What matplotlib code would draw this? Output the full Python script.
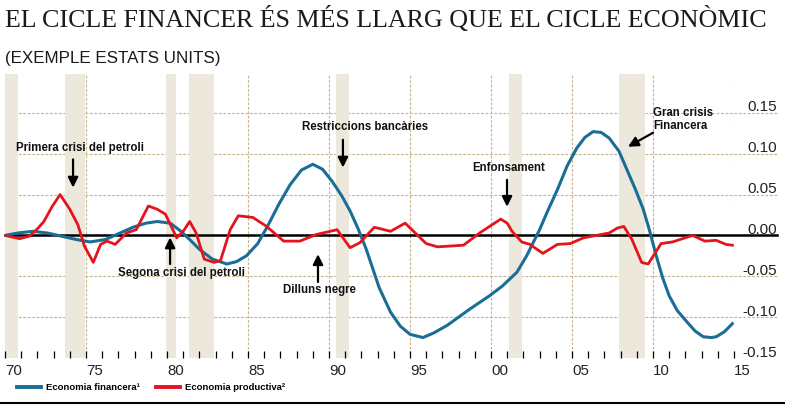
import matplotlib
matplotlib.use("Agg")
import matplotlib.pyplot as plt
from matplotlib.lines import Line2D

# ---------------- data ----------------
fin_years = [1970.0, 1970.8, 1971.7, 1972.6, 1973.5, 1974.4, 1975.25, 1976.2, 1977.0, 1977.9,
             1978.7, 1979.4, 1980.2, 1980.8, 1981.4, 1982.0, 1982.8, 1983.7, 1984.3, 1984.9,
             1985.6, 1986.2, 1986.9, 1987.6, 1988.3, 1989.0, 1989.6, 1990.2, 1990.8, 1991.3,
             1991.8, 1992.3, 1993.1, 1993.8, 1994.4, 1995.0, 1995.8, 1996.5, 1997.3, 1998.0,
             1998.7, 1999.3, 1999.9, 2000.7, 2001.6, 2002.2, 2003.0, 2003.5, 2004.1, 2004.7,
             2005.3, 2005.8, 2006.3, 2006.8, 2007.3, 2007.9, 2008.4, 2008.9, 2009.4, 2009.8,
             2010.2, 2010.6, 2011.0, 2011.5, 2012.1, 2012.6, 2013.1, 2013.6, 2013.9, 2014.4,
             2014.9]
fin_values = [0.000, 0.003, 0.005, 0.003, -0.001, -0.005, -0.008, -0.005, 0.002, 0.010,
              0.015, 0.017, 0.015, 0.006, -0.005, -0.017, -0.029, -0.035, -0.032, -0.025,
              -0.010, 0.011, 0.038, 0.062, 0.080, 0.087, 0.081, 0.066, 0.048, 0.030,
              0.008, -0.017, -0.064, -0.094, -0.111, -0.121, -0.125, -0.119, -0.110, -0.100,
              -0.090, -0.082, -0.074, -0.062, -0.045, -0.025, 0.007, 0.030, 0.056, 0.085,
              0.107, 0.120, 0.127, 0.126, 0.119, 0.103, 0.080, 0.057, 0.032, 0.005,
              -0.025, -0.052, -0.074, -0.092, -0.106, -0.117, -0.124, -0.125, -0.124, -0.118,
              -0.108]

prod_years = [1970.0, 1970.9, 1971.5, 1972.0, 1972.4, 1972.9, 1973.4, 1974.0, 1974.5, 1974.9,
              1975.45, 1975.9, 1976.3, 1976.8, 1977.5, 1978.1, 1978.85, 1979.4, 1979.9, 1980.6,
              1981.0, 1981.4, 1981.8, 1982.3, 1982.9, 1983.3, 1983.9, 1984.4, 1985.3, 1986.15,
              1987.2, 1988.2, 1989.2, 1990.5, 1991.3, 1991.9, 1992.8, 1993.8, 1994.7, 1996.0,
              1996.7, 1998.3, 1999.3, 2000.6, 2001.0, 2001.3, 2001.9, 2002.4, 2003.2, 2004.1,
              2004.9, 2005.7, 2007.3, 2007.8, 2008.2, 2008.7, 2009.3, 2009.7, 2010.5, 2011.2,
              2012.45, 2013.2, 2013.9, 2014.5, 2014.9]
prod_values = [0.000, -0.004, -0.001, 0.008, 0.017, 0.035, 0.050, 0.032, 0.013, -0.013,
               -0.033, -0.011, -0.007, -0.011, 0.003, 0.007, 0.036, 0.032, 0.026, -0.003,
               0.005, 0.017, 0.003, -0.029, -0.033, -0.031, 0.007, 0.024, 0.022, 0.011,
               -0.007, -0.007, 0.001, 0.007, -0.015, -0.009, 0.010, 0.005, 0.015, -0.010,
               -0.014, -0.012, 0.003, 0.020, 0.015, 0.005, -0.008, -0.011, -0.022, -0.011,
               -0.010, -0.003, 0.003, 0.009, 0.011, -0.005, -0.033, -0.035, -0.010, -0.008,
               0.000, -0.007, -0.006, -0.011, -0.012]

recession_start = [1969.9, 1973.7, 1979.95, 1981.35, 1990.45, 2001.1, 2007.9]
recession_end = [1970.8, 1974.95, 1980.55, 1982.9, 1991.25, 2001.9, 2009.5]

x_ticks = [1970, 1975, 1980, 1985, 1990, 1995, 2000, 2005, 2010, 2015]
x_tick_labels = ["70", "75", "80", "85", "90", "95", "00", "05", "10", "15"]
y_ticks = [-0.15, -0.10, -0.05, 0.00, 0.05, 0.10, 0.15]

series_names = ["Economia financera\u00b9", "Economia productiva\u00b2"]

title = "EL CICLE FINANCER ÉS MÉS LLARG QUE EL CICLE ECONÒMIC"
subtitle = "(EXEMPLE ESTATS UNITS)"

# annotations: text, text position (year, value), arrow tail, arrow head
ann_texts = ["Primera crisi del petroli", "Segona crisi del petroli", "Restriccions bancàries",
             "Dilluns negre", "Enfonsament", "Gran crisis\nFinancera"]
ann_text_pos = [(1970.68, 0.107), (1976.98, -0.046), (1988.33, 0.133),
                (1987.16, -0.067), (1998.83, 0.082), (2010.0, 0.142)]
ann_tail = [(1974.2, 0.093), (1980.19, -0.035), (1990.86, 0.117),
            (1989.32, -0.057), (2000.99, 0.068), (2010.0, 0.1256)]
ann_head = [(1974.2, 0.0585), (1980.19, -0.0025), (1990.86, 0.083),
            (1989.32, -0.023), (2000.99, 0.035), (2008.46, 0.1085)]

# ---------------- style ----------------
BLUE = "#1a6e96"
RED = "#e5141c"
BAND = "#ece9dc"
GRID = "#c6b48a"
SANS = ["Liberation Sans", "DejaVu Sans"]
NARROW = ["Liberation Sans Narrow", "Liberation Sans", "DejaVu Sans"]
SERIF = ["Liberation Serif", "DejaVu Serif"]

W, H = 785, 412
fig = plt.figure(figsize=(W / 100, H / 100), dpi=100)
fig.patch.set_facecolor("white")
ax = fig.add_axes([5 / W, 1 - 358 / H, 729 / W, (358 - 74) / H])
ax.set_xlim(1970, 2015)
ax.set_ylim(-0.15, 0.1975)
for s in ax.spines.values():
    s.set_visible(False)

# grid
xr = (777 - 5) / 729
for v in y_ticks:
    if v in (-0.15,):
        continue
    if v == 0:
        ax.axhline(v, xmin=0, xmax=xr, color="black", lw=1.8, zorder=2, clip_on=False)
    else:
        ax.axhline(v, xmin=0, xmax=xr, color=GRID, lw=0.8, ls=(0, (2.5, 1.5)), zorder=0.5,
                   clip_on=False)
for xv in x_ticks:
    ax.axvline(xv, color=GRID, lw=0.8, ls=(0, (2.5, 1.5)), zorder=0.5)

# recession bands
for a, b in zip(recession_start, recession_end):
    ax.axvspan(a, b, color=BAND, lw=0, zorder=1)

# series
ax.plot(fin_years, fin_values, color=BLUE, lw=2.2, zorder=3, solid_joinstyle="round")
ax.plot(prod_years, prod_values, color=RED, lw=2.0, zorder=3.5, solid_joinstyle="round")

# ticks
ax.set_xticks(x_ticks)
ax.set_xticklabels(x_tick_labels, fontsize=10.8, family=SANS, color="#222222")
for lbl in ax.get_xticklabels():
    lbl.set_ha("left")
ax.set_xticks(range(1970, 2016), minor=True)
ax.tick_params(axis="x", which="both", direction="in", length=5, width=0.9, color="black", pad=4)
ax.set_yticks([])

# y tick labels on the right, above gridlines
for v in y_ticks:
    ax.text(xr, v + 1.5 / 820, f"{v:.2f}", transform=ax.get_yaxis_transform(), ha="right",
            va="baseline", fontsize=11, family=SANS, color="#222222", clip_on=False)

# annotations
for t, tp, ta, hd in zip(ann_texts, ann_text_pos, ann_tail, ann_head):
    ax.text(tp[0], tp[1], t, ha="left", va="center", fontsize=8.3, fontweight="bold",
            family=SANS, color="#111111", zorder=5, linespacing=1.15)
    ax.annotate("", xy=hd, xytext=ta,
                arrowprops=dict(arrowstyle="-|>,head_length=0.6,head_width=0.3", lw=1.6,
                                color="black", shrinkA=0, shrinkB=0), zorder=5)

# legend
handles = [Line2D([], [], color=BLUE, lw=2.8), Line2D([], [], color=RED, lw=2.8)]
leg = fig.legend(handles, series_names, loc="center left", bbox_to_anchor=(17 / W, 1 - 388 / H),
                 frameon=False, ncol=2, borderpad=0, borderaxespad=0, handlelength=2.5,
                 handletextpad=0.6, columnspacing=1.7,
                 prop=dict(family=SANS, weight="bold", size=6.8))

# titles (fit to measured widths)
renderer = fig.canvas.get_renderer()


def fit_text(x, y, s, target_w, family, size, **kw):
    t = fig.text(x / W, 1 - y / H, s, ha="left", va="baseline", family=family, fontsize=size, **kw)
    w = t.get_window_extent(renderer).width
    t.set_fontsize(size * target_w / w)
    return t


fit_text(5, 27, title, 762, SERIF, 18, color="#1a1a1a")
fit_text(5, 63, subtitle, 215, NARROW, 13, color="#1a1a1a")

# bottom rule
fig.add_artist(Line2D([0, 1], [1 - 403 / H, 1 - 403 / H], transform=fig.transFigure,
                      color="black", lw=1.5))

fig.savefig("out.png", dpi=100)
